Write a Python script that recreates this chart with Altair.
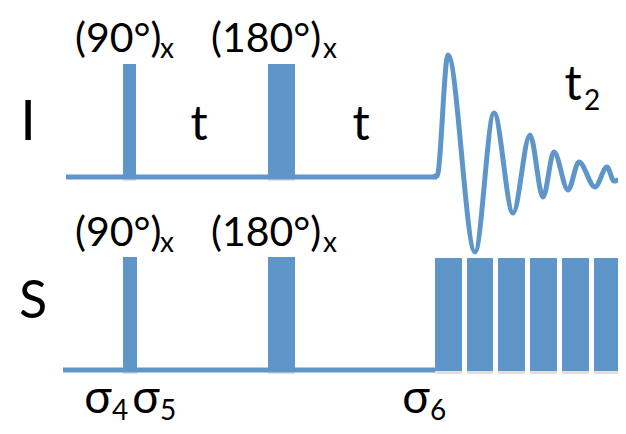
import altair as alt
import pandas as pd

BLUE = "#5e96ca"
FONT = "Lato, 'Open Sans', sans-serif"

# Time/amplitude coordinates of the diagram (x: time axis, y: vertical position)
base_channel = ["I", "S"]
base_x0 = [66, 63]
base_x1 = [437, 435]
base_y = [177, 370]

# Hard pulses: (90)x and (180)x on both channels, then S decoupling train
pulse_x0 = [123, 268, 123, 268, 435, 467, 498, 530, 562, 594]
pulse_x1 = [136, 295, 137, 295, 462, 493, 525, 557, 589, 621]
pulse_top = [64, 64, 257, 257, 258, 258, 258, 258, 258, 258]
pulse_bot = [178, 178, 371, 371, 371, 371, 371, 371, 371, 371]

# FID on I channel (extrema)
fid_x = [435, 437, 448, 475, 494, 513, 530, 543, 554, 568, 579, 595, 607, 614, 626]
fid_y = [176, 176, 55, 252, 113, 213, 135, 197, 152, 190, 162, 187, 167, 181, 175]

# Text labels
lab_text = ["I", "S", "(90°)", "(180°)", "(90°)", "(180°)", "t", "t", "t", "σ", "σ", "σ"]
lab_x = [28, 33, 75, 211, 75, 211, 199, 361, 573, 98, 146, 416]
lab_y = [140, 318, 52, 52, 246, 246, 140, 140, 100, 413, 413, 413]
lab_size = [56, 52, 41, 41, 41, 41, 48, 48, 48, 46, 46, 46]
lab_align = ["center", "center", "left", "left", "left", "left", "center", "center", "center", "center", "center", "center"]

sub_text = ["x", "x", "x", "x", "2", "4", "5", "6"]
sub_x = [160, 323, 160, 323, 584, 112, 160, 430]
sub_y = [58, 58, 252, 252, 110, 420, 420, 420]

W, H = 610, 418
xs = alt.Scale(domain=[8, 8 + W], range=[0, W])
ys = alt.Scale(domain=[8, 8 + H], reverse=True)

base_df = pd.DataFrame({"ch": base_channel, "x0": base_x0, "x1": base_x1, "y": base_y})
pulse_df = pd.DataFrame({"x0": pulse_x0, "x1": pulse_x1, "top": pulse_top, "bot": pulse_bot})
pulse_df["sbot"] = pulse_df["bot"] + 3
pulse_df["stop"] = pulse_df["top"] + 3
fid_df = pd.DataFrame({"x": fid_x, "y": fid_y, "o": list(range(len(fid_x)))})
lab_df = pd.DataFrame({"t": lab_text, "x": lab_x, "y": lab_y, "s": lab_size, "a": lab_align})
sub_df = pd.DataFrame({"t": sub_text, "x": sub_x, "y": sub_y})

shadow = alt.Chart(pulse_df).mark_rect(color="#000000", opacity=0.12).encode(
    x=alt.X("x0:Q", scale=xs, axis=None),
    x2="x1:Q",
    y=alt.Y("stop:Q", scale=ys, axis=None),
    y2="sbot:Q",
)

baselines = alt.Chart(base_df).mark_rule(color=BLUE, strokeWidth=5).encode(
    x=alt.X("x0:Q", scale=xs, axis=None),
    x2="x1:Q",
    y=alt.Y("y:Q", scale=ys, axis=None),
)

pulses = alt.Chart(pulse_df).mark_rect(color=BLUE).encode(
    x=alt.X("x0:Q", scale=xs, axis=None),
    x2="x1:Q",
    y=alt.Y("top:Q", scale=ys, axis=None),
    y2="bot:Q",
)

fid = alt.Chart(fid_df).mark_line(
    color=BLUE, strokeWidth=5, interpolate="monotone", strokeCap="round", strokeJoin="round"
).encode(
    x=alt.X("x:Q", scale=xs, axis=None),
    y=alt.Y("y:Q", scale=ys, axis=None),
    order="o:O",
)

labels_left = alt.Chart(lab_df[lab_df["a"] == "left"]).mark_text(
    font=FONT, color="black", baseline="alphabetic", align="left"
).encode(
    x=alt.X("x:Q", scale=xs, axis=None),
    y=alt.Y("y:Q", scale=ys, axis=None),
    text="t:N",
    size=alt.Size("s:Q", scale=None, legend=None),
)

labels_center = alt.Chart(lab_df[lab_df["a"] == "center"]).mark_text(
    font=FONT, color="black", baseline="alphabetic", align="center"
).encode(
    x=alt.X("x:Q", scale=xs, axis=None),
    y=alt.Y("y:Q", scale=ys, axis=None),
    text="t:N",
    size=alt.Size("s:Q", scale=None, legend=None),
)

subs = alt.Chart(sub_df).mark_text(
    font=FONT, color="black", baseline="alphabetic", align="left", fontSize=28
).encode(
    x=alt.X("x:Q", scale=xs, axis=None),
    y=alt.Y("y:Q", scale=ys, axis=None),
    text="t:N",
)

chart = alt.layer(shadow, baselines, pulses, fid, labels_left, labels_center, subs).properties(
    width=W, height=H, padding=0, autosize=alt.AutoSizeParams(type="none"), background="white"
).configure_view(stroke=None)

chart.save("out.html", embed_options={"renderer": "svg", "actions": False})
